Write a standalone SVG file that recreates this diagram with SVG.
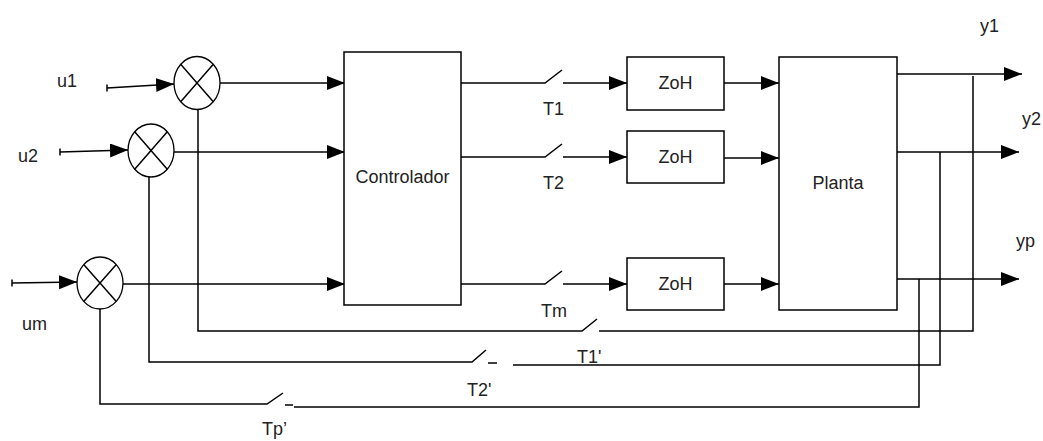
<svg xmlns="http://www.w3.org/2000/svg" width="1043" height="441" viewBox="0 0 1043 441">
<style>
.ln{fill:none;stroke:#000;stroke-width:1.5}
.bx{fill:#fff;stroke:#000;stroke-width:1.5}
.sm{fill:#fff;stroke:#000;stroke-width:1.3}
.t{font-family:"Liberation Sans",Arial,sans-serif;font-size:18px;fill:#222}
.ar{marker-end:url(#ah)}
</style>
<defs>
<marker id="ah" markerUnits="userSpaceOnUse" markerWidth="19" markerHeight="15" refX="18" refY="7" orient="auto">
<path d="M0,0 L18,7 L0,14 z" fill="#000"/>
</marker>
</defs>
<rect width="1043" height="441" fill="#fff"/>

<g id="connectors">
<!-- inputs -->
<path class="ln ar" d="M107,88 L174,84"/>
<path class="ln" d="M107,84.5 V91.5"/>
<path class="ln ar" d="M60,152 L128,150"/>
<path class="ln" d="M60,148.5 V155.5"/>
<path class="ln ar" d="M12,283 L77,282"/>
<path class="ln" d="M12,279.5 V286.5"/>
<!-- summer to controller -->
<path class="ln ar" d="M220,83 H345"/>
<path class="ln ar" d="M174,152 H345"/>
<path class="ln ar" d="M123,284 H345"/>
<!-- controller to switches to ZoH -->
<path class="ln" d="M461,83 H545 L562,70"/>
<path class="ln ar" d="M563,83 H627"/>
<path class="ln" d="M461,157 H545 L562,144"/>
<path class="ln ar" d="M563,157 H627"/>
<path class="ln" d="M461,284 H545 L562,271"/>
<path class="ln ar" d="M563,284 H627"/>
<!-- ZoH to plant -->
<path class="ln ar" d="M724,83 H779"/>
<path class="ln ar" d="M724,158 H779"/>
<path class="ln ar" d="M724,284 H779"/>
<!-- outputs -->
<path class="ln ar" d="M897,74 H1022"/>
<path class="ln ar" d="M897,152 H1019"/>
<path class="ln ar" d="M897,279 H1019"/>
<!-- feedback y1 -->
<path class="ln" d="M973,76 V331 H599"/>
<path class="ln" d="M597,319 L582,331 H198 V109"/>
<!-- feedback y2 -->
<path class="ln" d="M940,152 V365 H513"/>
<path class="ln" d="M488,363 H497"/>
<path class="ln" d="M486,350 L472,362 H149 V177"/>
<!-- feedback yp -->
<path class="ln" d="M919,279 V407 H294"/>
<path class="ln" d="M285,405 H293"/>
<path class="ln" d="M283,393 L267,404 H100 V309"/>
</g>

<g id="sum1">
<ellipse class="sm" cx="197" cy="83" rx="23" ry="26.5"/>
<path class="ln" stroke-width="1.2" d="M180.7,64.3 L213.3,101.7 M213.3,64.3 L180.7,101.7"/>
</g>
<g id="sum2">
<ellipse class="sm" cx="151" cy="150.5" rx="23" ry="26.5"/>
<path class="ln" stroke-width="1.2" d="M134.7,131.8 L167.3,169.2 M167.3,131.8 L134.7,169.2"/>
</g>
<g id="sum3">
<ellipse class="sm" cx="100" cy="283" rx="23" ry="26"/>
<path class="ln" stroke-width="1.2" d="M83.7,264.6 L116.3,301.4 M116.3,264.6 L83.7,301.4"/>
</g>

<g id="controlador">
<rect class="bx" x="344" y="52" width="117" height="253"/>
<text class="t" x="402.5" y="183" text-anchor="middle">Controlador</text>
</g>
<g id="zoh1">
<rect class="bx" x="627" y="57" width="97" height="53"/>
<text class="t" x="675.5" y="89" text-anchor="middle" font-size="17">ZoH</text>
</g>
<g id="zoh2">
<rect class="bx" x="627" y="131" width="97" height="52"/>
<text class="t" x="675.5" y="163" text-anchor="middle" font-size="17">ZoH</text>
</g>
<g id="zohm">
<rect class="bx" x="627" y="258" width="97" height="52"/>
<text class="t" x="675.5" y="290" text-anchor="middle" font-size="17">ZoH</text>
</g>
<g id="planta">
<rect class="bx" x="779" y="57" width="118" height="253"/>
<text class="t" x="838" y="189" text-anchor="middle">Planta</text>
</g>

<g id="labels">
<text class="t" x="57" y="87">u1</text>
<text class="t" x="18" y="162">u2</text>
<text class="t" x="22" y="330">um</text>
<text class="t" x="980" y="32">y1</text>
<text class="t" x="1022" y="125">y2</text>
<text class="t" x="1016" y="247">yp</text>
<text class="t" x="543" y="115">T1</text>
<text class="t" x="543" y="189">T2</text>
<text class="t" x="541" y="317">Tm</text>
<text class="t" x="577" y="363">T1'</text>
<text class="t" x="467" y="396">T2'</text>
<text class="t" x="262" y="435">Tp’</text>
</g>
</svg>
